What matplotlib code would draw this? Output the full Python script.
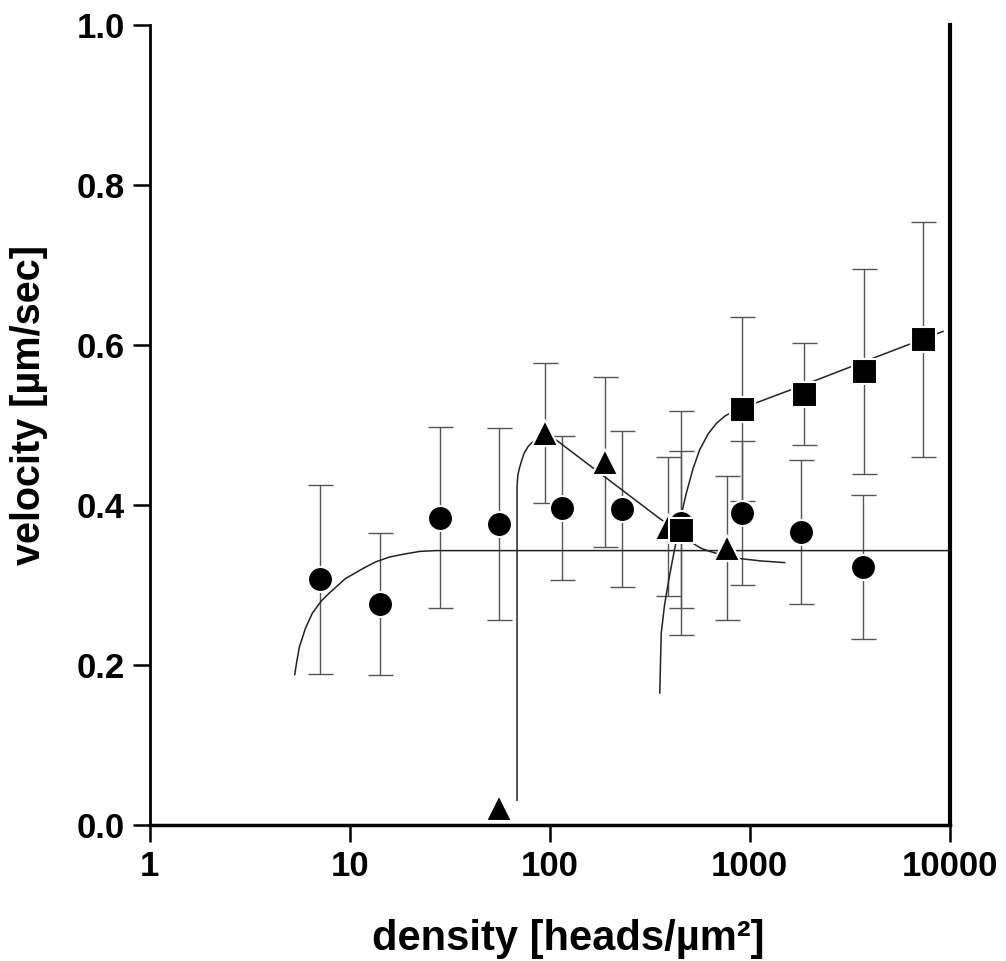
import matplotlib.pyplot as plt
from matplotlib.ticker import FixedLocator, FixedFormatter

plt.rcParams['font.family'] = ['Liberation Sans', 'DejaVu Sans']
plt.rcParams['font.weight'] = 'bold'

# Data
circ_x = [7.1, 14.1, 28.2, 55.8, 115.7, 229, 455, 910, 1800, 3690]
circ_y = [0.307, 0.276, 0.384, 0.376, 0.396, 0.395, 0.377, 0.390, 0.366, 0.322]
circ_err = [0.118, 0.089, 0.113, 0.120, 0.090, 0.098, 0.140, 0.090, 0.090, 0.090]

tri_x = [55.6, 95, 188, 391, 774]
tri_y = [0.021, 0.490, 0.454, 0.373, 0.346]
tri_err = [0.0, 0.088, 0.106, 0.087, 0.090]

sq_x = [455, 913, 1862, 3715, 7357]
sq_y = [0.369, 0.520, 0.539, 0.567, 0.607]
sq_err = [0.098, 0.115, 0.064, 0.128, 0.147]

# fitted curves, points
fit_c_x = [5.3, 5.45, 5.6, 6.0, 6.5, 7.2, 7.9, 9.5, 11.7, 13.5, 15.8, 19.0, 22.4, 27.0, 10000]
fit_c_y = [0.188, 0.207, 0.223, 0.246, 0.265, 0.280, 0.290, 0.308, 0.321, 0.329, 0.335, 0.339, 0.342, 0.343, 0.343]

fit_t_x = [68.6, 68.6, 69.2, 70.5, 72.2, 74.5, 77.9, 81.5, 85.8, 95, 108, 355, 391, 430, 480, 521, 570, 631, 740, 891, 1150, 1496]
fit_t_y = [0.031, 0.423, 0.437, 0.446, 0.455, 0.465, 0.473, 0.478, 0.481, 0.483, 0.481, 0.383, 0.376, 0.366, 0.357, 0.352, 0.346, 0.342, 0.337, 0.333, 0.330, 0.328]

fit_s_x = [355, 358, 361, 375, 391, 410, 430, 455, 482, 520, 562, 620, 681, 750, 826, 913, 1862, 3715, 9260]
fit_s_y = [0.165, 0.205, 0.240, 0.275, 0.302, 0.330, 0.356, 0.388, 0.415, 0.445, 0.469, 0.489, 0.502, 0.511, 0.517, 0.521, 0.550, 0.579, 0.617]

fig = plt.figure(figsize=(10.06, 9.61), dpi=100)
ax = fig.add_axes([0.149, 0.1415, 0.795, 0.8325])

ebar = dict(fmt='none', ecolor='#555555', elinewidth=1.0, capsize=9, capthick=1.0, zorder=1)
ax.errorbar(circ_x, circ_y, yerr=circ_err, **ebar)
ax.errorbar(tri_x[1:], tri_y[1:], yerr=tri_err[1:], **ebar)
ax.errorbar(sq_x, sq_y, yerr=sq_err, **ebar)

ax.plot(fit_c_x, fit_c_y, color='#222222', lw=1.1, zorder=2)
ax.plot(fit_t_x, fit_t_y, color='#222222', lw=1.1, zorder=2)
ax.plot(fit_s_x, fit_s_y, color='#222222', lw=1.1, zorder=2)

mk = dict(linestyle='none', color='black', markeredgecolor='white', markeredgewidth=1.5, zorder=3)
ax.plot(circ_x, circ_y, marker='o', markersize=18, **mk)
ax.plot(tri_x, tri_y, marker='^', markersize=19, **mk)
ax.plot(sq_x, sq_y, marker='s', markersize=18, **mk)

ax.set_xscale('log')
ax.set_xlim(1, 10000)
ax.set_ylim(0, 1.0)
ax.xaxis.set_major_locator(FixedLocator([1, 10, 100, 1000, 10000]))
ax.xaxis.set_major_formatter(FixedFormatter(['1', '10', '100', '1000', '10000']))
ax.xaxis.set_minor_locator(FixedLocator([]))
ax.set_yticks([0.0, 0.2, 0.4, 0.6, 0.8, 1.0])
ax.set_yticklabels(['0.0', '0.2', '0.4', '0.6', '0.8', '1.0'])

ax.tick_params(axis='both', direction='out', length=12, width=1.8, labelsize=25, pad=6)
ax.spines['top'].set_visible(False)
ax.spines['left'].set_linewidth(2.0)
ax.spines['bottom'].set_linewidth(2.5)
ax.spines['right'].set_linewidth(3.0)

ax.set_xlabel('density [heads/\u00b5m\u00b2]', fontsize=30, fontweight='bold')
ax.set_ylabel('velocity [\u00b5m/sec]', fontsize=28.5, fontweight='bold')
ax.xaxis.set_label_coords(0.5225, -0.118)
ax.yaxis.set_label_coords(-0.128, 0.525)

fig.savefig('out.png', dpi=100)
